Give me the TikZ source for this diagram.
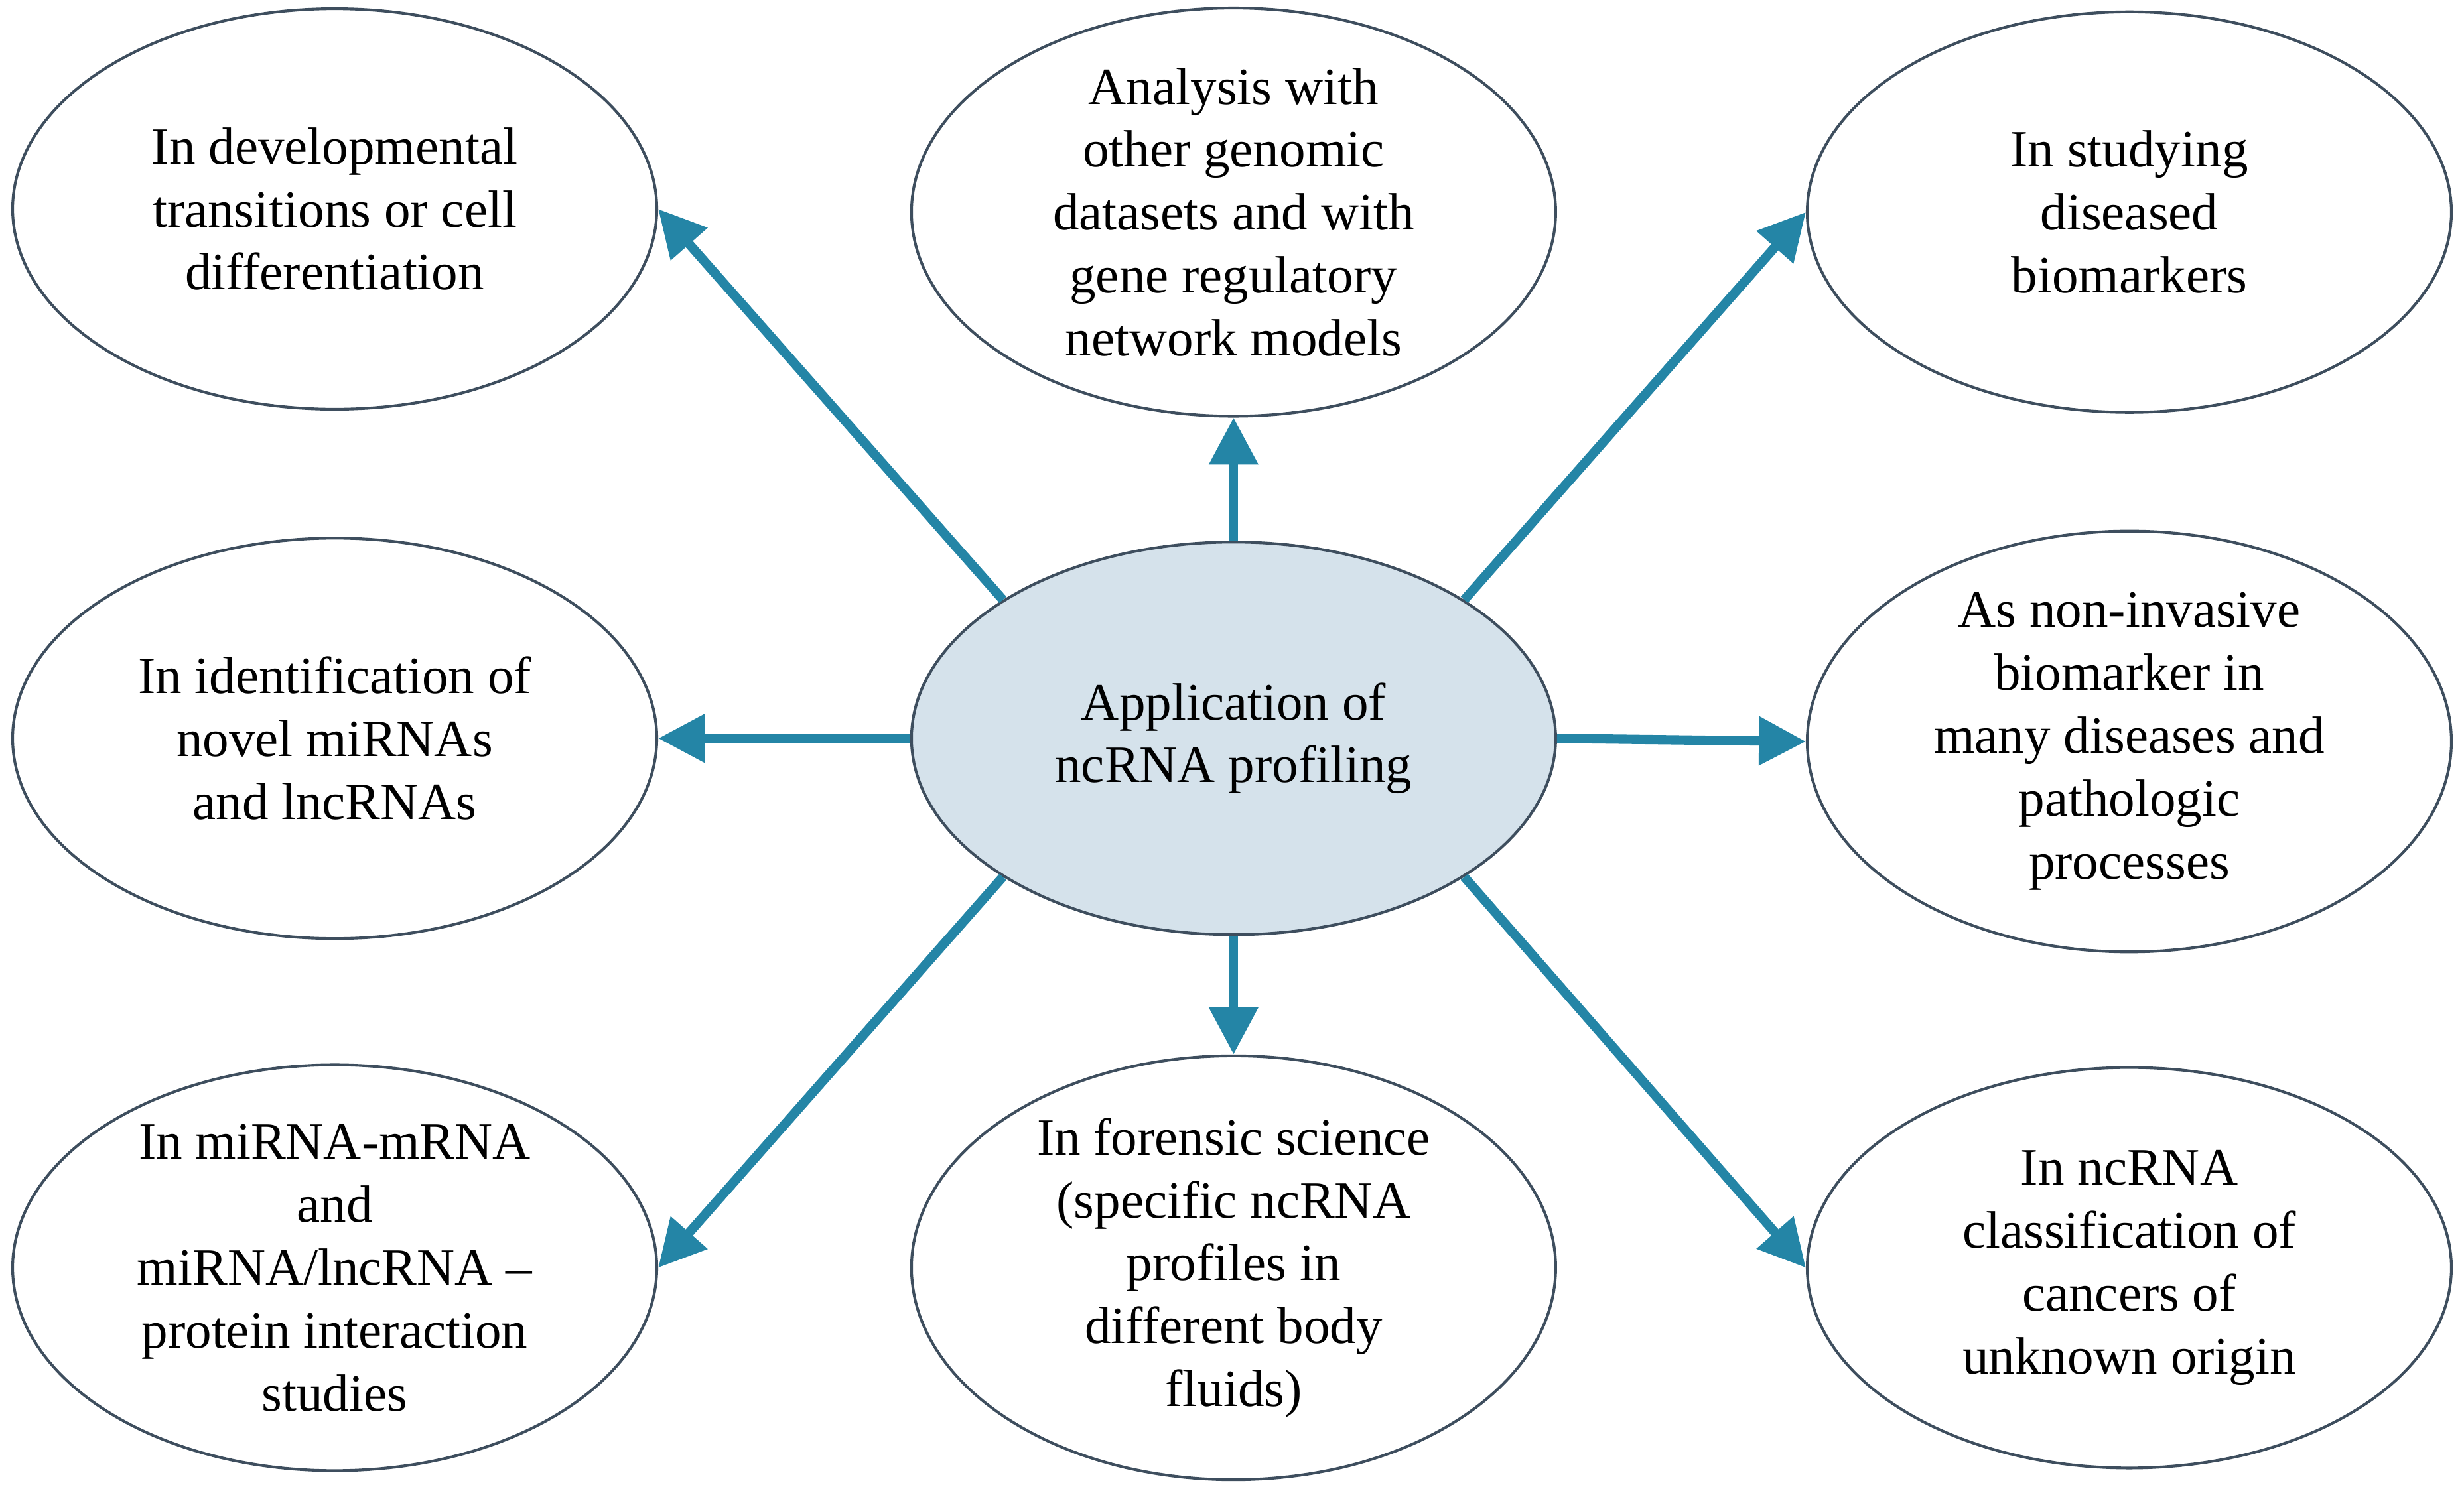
\documentclass[tikz,border=0pt]{standalone}
\usepackage{fontspec}
\setmainfont{Liberation Serif}
\usetikzlibrary{shapes.geometric,arrows.meta}
\definecolor{arr}{HTML}{2485A6}
\definecolor{cfill}{HTML}{D5E2EB}
\definecolor{bord}{HTML}{3E4E5E}
\begin{document}
\begin{tikzpicture}[x=0.02cm,y=-0.02cm,
  el/.style={ellipse,draw=bord,line width=1pt,minimum width=8.2cm,minimum height=5.1cm,inner sep=0pt,align=center,font=\fontsize{19}{22.8}\selectfont},
  ar/.style={draw=arr,line width=3.4pt,-{Triangle[length=17pt,width=17pt]}}]
\useasboundingbox (0,0) rectangle (1568,945);
\node[el] (tl) at (213,133) {In developmental\\transitions or cell\\differentiation};
\node[el] (tc) at (785,135) {Analysis with\\other genomic\\datasets and with\\gene regulatory\\network models};
\node[el] (tr) at (1355,135) {In studying\\diseased\\biomarkers};
\node[el] (ml) at (213,470) {In identification of\\novel miRNAs\\and lncRNAs};
\node[el,fill=cfill,minimum height=5.0cm] (c) at (785,470) {Application of\\ncRNA profiling};
\node[el] (mr) at (1355,472) {As non-invasive\\biomarker in\\many diseases and\\pathologic\\processes};
\node[el] (bl) at (213,807) {In miRNA-mRNA\\and\\miRNA/lncRNA –\\protein interaction\\studies};
\node[el] (bc) at (785,807) {In forensic science\\(specific ncRNA\\profiles in\\different body\\fluids)};
\node[el] (br) at (1355,807) {In ncRNA\\classification of\\cancers of\\unknown origin};
\draw[ar] (c.149) -- (tl.east);
\draw[ar] (c.north) -- (tc.south);
\draw[ar] (c.31) -- (tr.west);
\draw[ar] (c.west) -- (ml.east);
\draw[ar] (c.east) -- (mr.west);
\draw[ar] (c.211) -- (bl.east);
\draw[ar] (c.south) -- (bc.north);
\draw[ar] (c.329) -- (br.west);
\end{tikzpicture}
\end{document}
